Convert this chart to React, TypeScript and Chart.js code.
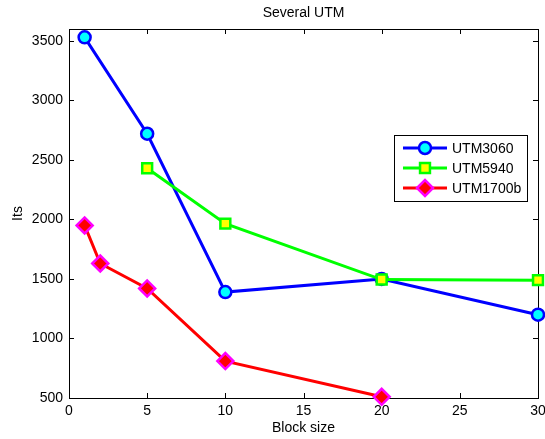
import React, { useEffect, useRef } from 'react';
import { Chart, registerables } from 'chart.js';
import { drawPoint } from 'chart.js/helpers';

Chart.register(...registerables);

const titleText = 'Several UTM';
const xLabel = 'Block size';
const yLabel = 'Its';
const xTicks = [0, 5, 10, 15, 20, 25, 30];
const yTicks = [500, 1000, 1500, 2000, 2500, 3000, 3500];

const utm3060X = [1, 5, 10, 20, 30];
const utm3060Y = [3530, 2720, 1390, 1500, 1200];
const utm5940X = [5, 10, 20, 30];
const utm5940Y = [2430, 1965, 1495, 1490];
const utm1700bX = [1, 2, 5, 10, 20];
const utm1700bY = [1950, 1630, 1420, 810, 510];

const FONT = '"Liberation Sans", Arial, Helvetica, sans-serif';

const toPoints = (xs: number[], ys: number[]) => xs.map((x, i) => ({ x, y: ys[i] }));

const framePlugin = {
  id: 'frame',
  beforeDatasetsDraw(chart: any) {
    const { ctx, chartArea: a, scales } = chart;
    ctx.save();
    ctx.strokeStyle = '#000';
    ctx.lineWidth = 1;
    ctx.strokeRect(Math.round(a.left) + 0.5, Math.round(a.top) + 0.5, Math.round(a.right - a.left), Math.round(a.bottom - a.top));
    ctx.beginPath();
    const tl = 5;
    xTicks.forEach((v) => {
      const px = Math.round(scales.x.getPixelForValue(v)) + 0.5;
      ctx.moveTo(px, a.bottom);
      ctx.lineTo(px, a.bottom - tl);
      ctx.moveTo(px, a.top);
      ctx.lineTo(px, a.top + tl);
    });
    yTicks.forEach((v) => {
      const py = Math.round(scales.y.getPixelForValue(v)) + 0.5;
      ctx.moveTo(a.left, py);
      ctx.lineTo(a.left + tl, py);
      ctx.moveTo(a.right, py);
      ctx.lineTo(a.right - tl, py);
    });
    ctx.stroke();
    ctx.restore();
  },
  afterDraw(chart: any) {
    const { ctx, chartArea: a } = chart;
    const cx = (a.left + a.right) / 2;
    const cy = (a.top + a.bottom) / 2;
    ctx.save();
    ctx.fillStyle = '#000';
    ctx.font = `14px ${FONT}`;
    ctx.textAlign = 'center';
    ctx.textBaseline = 'middle';
    ctx.fillText(titleText, cx, 13);
    ctx.fillText(xLabel, cx, 428);
    ctx.save();
    ctx.translate(18, cy);
    ctx.rotate(-Math.PI / 2);
    ctx.fillText(yLabel, 0, 0);
    ctx.restore();

    // legend
    const bx = 394, by = 135, bw = 133, bh = 66;
    ctx.fillStyle = '#fff';
    ctx.fillRect(bx, by, bw, bh);
    ctx.strokeStyle = '#000';
    ctx.lineWidth = 1;
    ctx.strokeRect(bx + 0.5, by + 0.5, bw, bh);
    chart.data.datasets.forEach((ds: any, i: number) => {
      const y = 148 + i * 20;
      ctx.strokeStyle = ds.borderColor;
      ctx.lineWidth = ds.borderWidth;
      ctx.beginPath();
      ctx.moveTo(403, y);
      ctx.lineTo(447, y);
      ctx.stroke();
      ctx.fillStyle = ds.pointBackgroundColor;
      ctx.strokeStyle = ds.pointBorderColor;
      ctx.lineWidth = ds.pointBorderWidth;
      drawPoint(ctx, { pointStyle: ds.pointStyle, radius: ds.pointRadius, rotation: 0, borderWidth: ds.pointBorderWidth }, 425, y);
      ctx.fillStyle = '#000';
      ctx.font = `14px ${FONT}`;
      ctx.textAlign = 'left';
      ctx.textBaseline = 'middle';
      ctx.fillText(ds.label, 452, y + 1);
    });
    ctx.restore();
  },
};

export default function App() {
  const ref = useRef<HTMLCanvasElement | null>(null);
  useEffect(() => {
    document.body.style.margin = '0';
    const canvas = ref.current!;
    const chart = new Chart(canvas, {
      type: 'line',
      data: {
        datasets: [
          {
            label: 'UTM3060',
            data: toPoints(utm3060X, utm3060Y),
            borderColor: '#0000ff',
            borderWidth: 3,
            pointStyle: 'circle',
            pointRadius: 6,
            pointBackgroundColor: '#00ffff',
            pointBorderColor: '#0000ff',
            pointBorderWidth: 2.5,
            clip: false,
            order: 3,
          },
          {
            label: 'UTM5940',
            data: toPoints(utm5940X, utm5940Y),
            borderColor: '#00ff00',
            borderWidth: 3,
            pointStyle: 'rect',
            pointRadius: 7,
            pointBackgroundColor: '#ffff00',
            pointBorderColor: '#00ff00',
            pointBorderWidth: 2.5,
            clip: false,
            order: 2,
          },
          {
            label: 'UTM1700b',
            data: toPoints(utm1700bX, utm1700bY),
            borderColor: '#ff0000',
            borderWidth: 3,
            pointStyle: 'rectRot',
            pointRadius: 8,
            pointBackgroundColor: '#ff0000',
            pointBorderColor: '#ff00ff',
            pointBorderWidth: 2.5,
            clip: false,
            order: 1,
          },
        ],
      } as any,
      options: {
        animation: false,
        responsive: false,
        devicePixelRatio: 1,
        layout: { autoPadding: false, padding: { top: 29, right: 7, left: 0, bottom: 0 } },
        plugins: { legend: { display: false }, title: { display: false }, tooltip: { enabled: false } },
        elements: { line: { tension: 0 } },
        scales: {
          x: {
            type: 'linear',
            min: 0,
            max: 30,
            grid: { display: false, drawTicks: false },
            border: { display: false },
            afterFit: (s: any) => { s.height = 41; s.paddingLeft = 0; s.paddingRight = 0; },
            afterBuildTicks: (s: any) => { s.ticks = xTicks.map((v) => ({ value: v })); },
            ticks: { color: '#000', font: { family: FONT, size: 14 }, padding: 5, maxRotation: 0, autoSkip: false, callback: (v: any) => String(v) },
          },
          y: {
            type: 'linear',
            min: 500,
            max: 3600,
            grid: { display: false, drawTicks: false },
            border: { display: false },
            afterFit: (s: any) => { s.width = 69; s.paddingTop = 0; s.paddingBottom = 0; },
            afterBuildTicks: (s: any) => { s.ticks = yTicks.map((v) => ({ value: v })); },
            ticks: { color: '#000', font: { family: FONT, size: 14 }, padding: 6, autoSkip: false, callback: (v: any) => String(v) },
          },
        },
      } as any,
      plugins: [framePlugin],
    });
    return () => chart.destroy();
  }, []);
  return <canvas ref={ref} width={545} height={439} style={{ display: 'block' }} />;
}
